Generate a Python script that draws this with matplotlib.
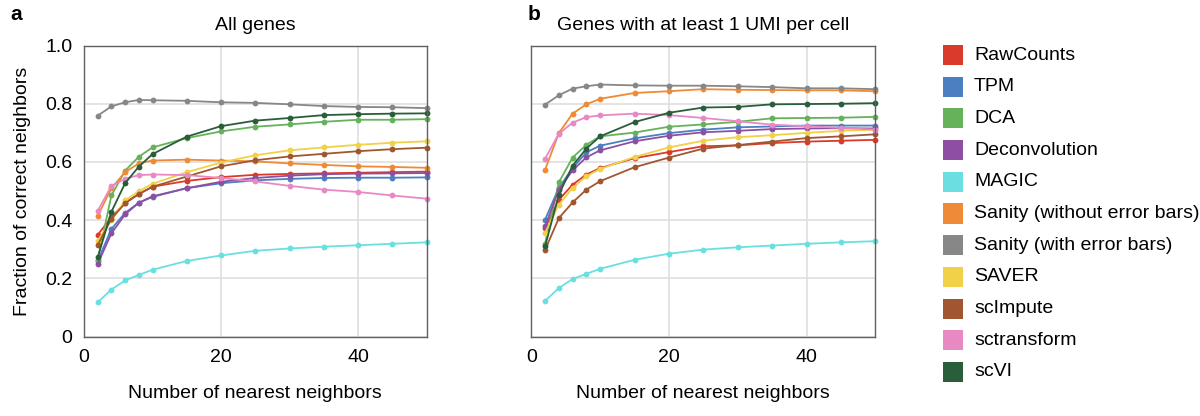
import matplotlib
matplotlib.use("Agg")
import matplotlib.pyplot as plt
from matplotlib.patches import Rectangle

plt.rcParams['font.family'] = ['Liberation Sans', 'DejaVu Sans']

k = [2, 4, 6, 8, 10, 15, 20, 25, 30, 35, 40, 45, 50]

methods = ["RawCounts", "TPM", "DCA", "Deconvolution", "MAGIC",
           "Sanity (without error bars)", "Sanity (with error bars)",
           "SAVER", "scImpute", "sctransform", "scVI"]
colors = ["#d93a2b", "#4a7fc1", "#66b25a", "#8e4fa3", "#6adfe2",
          "#ef8a36", "#878787", "#f0d148", "#a0572f", "#e889c3", "#2a5e3a"]

# Panel a: all genes
a_raw = [0.350, 0.410, 0.460, 0.490, 0.515, 0.535, 0.548, 0.556, 0.559, 0.561, 0.563, 0.565, 0.567]
a_tpm = [0.260, 0.370, 0.425, 0.460, 0.480, 0.510, 0.527, 0.537, 0.542, 0.545, 0.546, 0.546, 0.547]
a_dca = [0.265, 0.485, 0.570, 0.618, 0.650, 0.682, 0.705, 0.721, 0.729, 0.738, 0.745, 0.745, 0.747]
a_dec = [0.250, 0.355, 0.420, 0.460, 0.482, 0.510, 0.532, 0.545, 0.553, 0.558, 0.560, 0.561, 0.562]
a_mag = [0.118, 0.162, 0.193, 0.212, 0.230, 0.260, 0.279, 0.295, 0.303, 0.309, 0.314, 0.319, 0.324]
a_san = [0.415, 0.510, 0.565, 0.595, 0.605, 0.608, 0.605, 0.602, 0.595, 0.590, 0.585, 0.583, 0.580]
a_sae = [0.759, 0.791, 0.805, 0.813, 0.812, 0.810, 0.805, 0.803, 0.798, 0.792, 0.789, 0.788, 0.785]
a_sav = [0.330, 0.400, 0.468, 0.500, 0.525, 0.565, 0.598, 0.623, 0.640, 0.650, 0.659, 0.666, 0.671]
a_sci = [0.315, 0.405, 0.458, 0.490, 0.515, 0.550, 0.585, 0.606, 0.619, 0.628, 0.637, 0.644, 0.649]
a_sct = [0.432, 0.518, 0.542, 0.555, 0.557, 0.555, 0.545, 0.533, 0.518, 0.505, 0.497, 0.485, 0.474]
a_svi = [0.272, 0.429, 0.527, 0.584, 0.627, 0.687, 0.723, 0.742, 0.751, 0.761, 0.764, 0.766, 0.767]

# Panel b: genes with at least 1 UMI per cell
b_raw = [0.373, 0.470, 0.522, 0.557, 0.579, 0.613, 0.634, 0.654, 0.657, 0.665, 0.670, 0.673, 0.676]
b_tpm = [0.402, 0.511, 0.579, 0.633, 0.656, 0.681, 0.699, 0.711, 0.719, 0.722, 0.725, 0.725, 0.725]
b_dca = [0.320, 0.530, 0.615, 0.659, 0.688, 0.701, 0.721, 0.729, 0.738, 0.750, 0.751, 0.752, 0.755]
b_dec = [0.379, 0.505, 0.571, 0.616, 0.640, 0.671, 0.690, 0.702, 0.707, 0.713, 0.715, 0.716, 0.715]
b_mag = [0.123, 0.167, 0.198, 0.216, 0.233, 0.264, 0.285, 0.299, 0.307, 0.313, 0.319, 0.324, 0.328]
b_san = [0.573, 0.699, 0.766, 0.798, 0.817, 0.837, 0.843, 0.850, 0.848, 0.847, 0.846, 0.846, 0.843]
b_sae = [0.797, 0.829, 0.852, 0.860, 0.866, 0.863, 0.862, 0.862, 0.860, 0.857, 0.853, 0.853, 0.850]
b_sav = [0.356, 0.453, 0.511, 0.551, 0.576, 0.617, 0.650, 0.673, 0.685, 0.692, 0.700, 0.707, 0.711]
b_sci = [0.298, 0.407, 0.461, 0.505, 0.534, 0.582, 0.615, 0.646, 0.658, 0.670, 0.682, 0.688, 0.695]
b_sct = [0.611, 0.697, 0.735, 0.754, 0.760, 0.766, 0.761, 0.751, 0.740, 0.728, 0.723, 0.717, 0.711]
b_svi = [0.310, 0.488, 0.587, 0.646, 0.688, 0.737, 0.769, 0.787, 0.789, 0.798, 0.799, 0.800, 0.802]

panel_a = [a_raw, a_tpm, a_dca, a_dec, a_mag, a_san, a_sae, a_sav, a_sci, a_sct, a_svi]
panel_b = [b_raw, b_tpm, b_dca, b_dec, b_mag, b_san, b_sae, b_sav, b_sci, b_sct, b_svi]

titles = ["All genes", "Genes with at least 1 UMI per cell"]
panel_labels = ["a", "b"]
xticks = [0, 20, 40]
yticks = [0, 0.2, 0.4, 0.6, 0.8, 1.0]
ytick_labels = ["0", "0.2", "0.4", "0.6", "0.8", "1.0"]

W, H = 1200, 416
fig = plt.figure(figsize=(12, 4.16), dpi=100)

def frac_rect(l, r, top, bottom):
    return [l / W, 1 - bottom / H, (r - l) / W, (bottom - top) / H]

ax_a = fig.add_axes(frac_rect(84, 426.5, 45.5, 336.7))
ax_b = fig.add_axes(frac_rect(531.3, 875.3, 45.5, 336.7))

FS = 14
for ax, data, title in zip([ax_a, ax_b], [panel_a, panel_b], titles):
    ax.set_xlim(0, 50)
    ax.set_ylim(0, 1)
    ax.set_xticks(xticks)
    ax.set_yticks(yticks)
    ax.grid(True, color="#dddddd", linewidth=1.1)
    ax.set_axisbelow(True)
    for s in ax.spines.values():
        s.set_color("#606060")
        s.set_linewidth(1.0)
    ax.tick_params(length=0, labelsize=FS, pad=8.5, colors="black")
    for vals, c in zip(data, colors):
        ax.plot(k, vals, color=c, lw=1.3, marker="o", ms=4.2,
                markeredgewidth=0, clip_on=False)
    ax.set_title(title, fontsize=FS, pad=11)
    ax.set_xlabel("Number of nearest neighbors", fontsize=FS, labelpad=14)

ax_a.set_yticklabels(ytick_labels)
ax_b.set_yticklabels([])
ax_a.set_ylabel("Fraction of correct neighbors", fontsize=FS, labelpad=10)

fig.text(10 / W, 1 - 15 / H, panel_labels[0], fontsize=15, fontweight="bold",
         va="center", ha="left")
fig.text(528 / W, 1 - 15 / H, panel_labels[1], fontsize=15, fontweight="bold",
         va="center", ha="left")

# Legend
for i, (name, c) in enumerate(zip(methods, colors)):
    yc = 55 + i * 31.7
    fig.add_artist(Rectangle((943 / W, 1 - (yc + 10) / H), 20 / W, 20 / H,
                             transform=fig.transFigure, facecolor=c,
                             edgecolor="none"))
    fig.text(974 / W, 1 - yc / H, name, fontsize=FS, va="center", ha="left")

fig.savefig("out.png", dpi=100)
